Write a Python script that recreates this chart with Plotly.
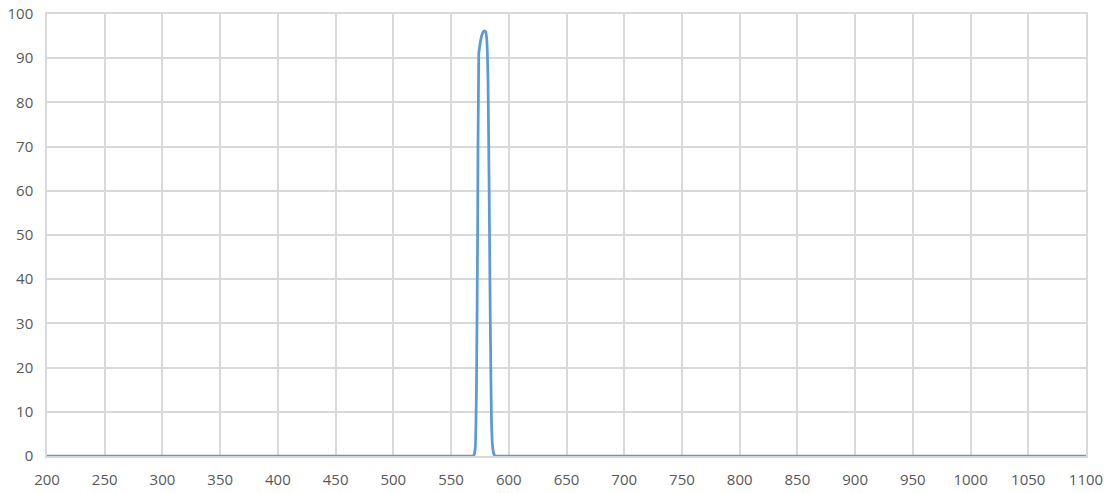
import plotly.graph_objects as go

# transmission curve (wavelength nm -> %)
wavelength = [200, 565, 569, 570, 571, 572, 573, 574, 575, 576, 577, 578, 579,
              580, 581, 582, 583, 584, 585, 586, 587, 588, 595, 1100]
transmission = [0, 0, 0, 0.3, 2, 15, 50, 91, 93, 94.5, 95.5, 96, 96.2,
                96, 94, 85, 60, 30, 8, 2, 0.5, 0, 0, 0]

x_ticks = list(range(200, 1101, 50))
y_ticks = list(range(0, 101, 10))

fig = go.Figure()
fig.add_trace(go.Scatter(x=wavelength, y=transmission, mode="lines",
                         line=dict(color="#5B9BD5", width=2.75, shape="spline", smoothing=0.4),
                         showlegend=False))

grid = "#d9d9d9"
fig.update_layout(
    width=1107, height=493,
    margin=dict(l=47, r=21, t=14, b=37, autoexpand=False),
    plot_bgcolor="white", paper_bgcolor="white",
    font=dict(family="Open Sans", size=15, color="#595959"),
)
fig.update_xaxes(range=[200, 1100], tickvals=x_ticks, showgrid=True, gridcolor=grid,
                 gridwidth=1.5, showline=True, linecolor=grid, linewidth=1.5, mirror=True,
                 zeroline=False, ticks="", ticklen=0, automargin=False, ticklabelstandoff=9)
fig.update_yaxes(range=[0, 100], tickvals=y_ticks, showgrid=True, gridcolor=grid,
                 gridwidth=1.5, showline=True, linecolor=grid, linewidth=1.5, mirror=True,
                 zeroline=False, ticks="", ticklen=0, automargin=False, ticklabelstandoff=9)

# drop the browser's default body margin so the figure sits at the page corner
fig.write_html("out.html", config={"displayModeBar": False},
               post_script="document.body.style.margin='0';")
